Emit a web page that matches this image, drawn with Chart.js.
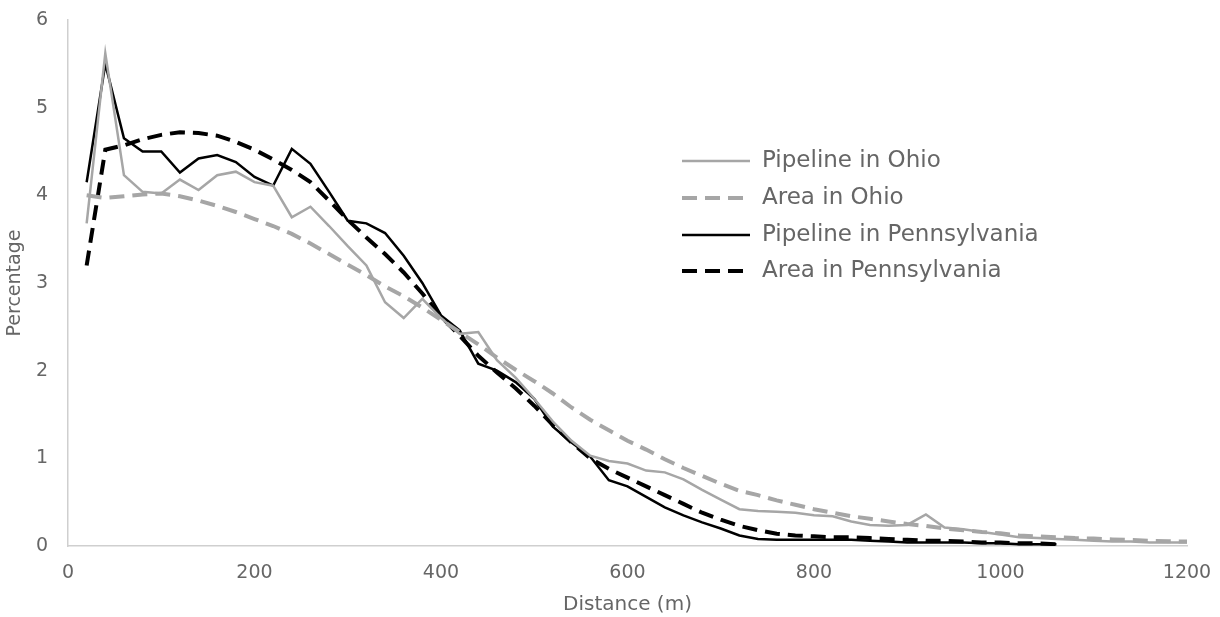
<!DOCTYPE html>
<html>
<head>
<meta charset="utf-8">
<script src="https://cdn.jsdelivr.net/npm/chart.js@4/dist/chart.umd.min.js"></script>
<style>
  html, body { margin: 0; padding: 0; background: #fff; }
  #wrap { width: 1220px; height: 617px; }
</style>
</head>
<body>
<div id="wrap"><canvas id="grafico" width="1220" height="617"></canvas></div>
<script>
// Distâncias (m)
const distOhio = [20,40,60,80,100,120,140,160,180,200,220,240,260,280,300,320,340,360,380,400,
  420,440,460,480,500,520,540,560,580,600,620,640,660,680,700,720,740,760,780,800,
  820,840,860,880,900,920,940,960,980,1000,1020,1040,1060,1080,1100,1120,1140,1160,1180,1200];
const distPenn = [20,40,60,80,100,120,140,160,180,200,220,240,260,280,300,320,340,360,380,400,
  420,440,460,480,500,520,540,560,580,600,620,640,660,680,700,720,740,760,780,800,
  820,840,860,880,900,920,940,960,980,1000,1020,1040,1060];

// Percentagens
const pipelineOhio = [3.68,5.62,4.23,4.04,4.02,4.18,4.06,4.23,4.27,4.15,4.11,3.75,3.87,3.65,3.42,3.2,2.78,2.6,2.82,2.6,
  2.42,2.44,2.12,1.92,1.68,1.42,1.2,1.03,0.97,0.94,0.86,0.84,0.76,0.64,0.53,0.42,0.4,0.39,0.38,0.35,
  0.34,0.28,0.24,0.23,0.24,0.36,0.21,0.19,0.16,0.13,0.1,0.09,0.08,0.07,0.06,0.05,0.05,0.04,0.04,0.04];
const areaOhio = [4.0,3.97,3.99,4.01,4.02,3.99,3.94,3.88,3.81,3.73,3.65,3.56,3.45,3.33,3.21,3.09,2.96,2.85,2.72,2.58,
  2.44,2.3,2.15,2.01,1.88,1.74,1.58,1.44,1.32,1.2,1.1,0.99,0.89,0.8,0.71,0.63,0.58,0.52,0.47,0.42,
  0.38,0.34,0.31,0.28,0.25,0.23,0.2,0.18,0.16,0.145,0.12,0.11,0.1,0.09,0.085,0.075,0.068,0.06,0.055,0.05];
const pipelinePenn = [4.15,5.5,4.65,4.5,4.5,4.26,4.42,4.46,4.38,4.21,4.11,4.53,4.36,4.04,3.71,3.68,3.57,3.31,3.0,2.63,
  2.46,2.08,2.0,1.87,1.68,1.36,1.18,1.02,0.75,0.68,0.56,0.44,0.35,0.27,0.2,0.12,0.08,0.07,0.07,0.07,
  0.07,0.07,0.06,0.05,0.04,0.04,0.04,0.04,0.03,0.03,0.02,0.02,0.02];
const areaPenn = [3.2,4.52,4.57,4.64,4.69,4.72,4.71,4.68,4.61,4.52,4.41,4.29,4.15,3.94,3.72,3.52,3.33,3.12,2.88,2.62,
  2.4,2.17,1.98,1.8,1.6,1.38,1.18,1.0,0.88,0.78,0.68,0.58,0.48,0.38,0.3,0.23,0.18,0.14,0.12,0.11,
  0.1,0.1,0.09,0.08,0.07,0.06,0.06,0.05,0.04,0.04,0.03,0.03,0.02];

const yTicks = [0,1,2,3,4,5,6];
const xTicks = [0,200,400,600,800,1000,1200];

const cinza = '#a6a6a6';
const texto = '#666666';
const fonte = "'DejaVu Sans', sans-serif";

const pontos = (xs, ys) => xs.map((x, i) => ({ x: x, y: ys[i] }));

// Legenda desenhada dentro da área do gráfico
const legendaInterna = {
  id: 'legendaInterna',
  afterDraw(chart) {
    const ctx = chart.ctx;
    const linhas = [161, 198, 235, 271];
    ctx.save();
    chart.data.datasets.forEach((ds, i) => {
      const y = linhas[i];
      ctx.beginPath();
      ctx.strokeStyle = ds.borderColor;
      ctx.lineWidth = ds.borderWidth;
      ctx.setLineDash(ds.borderDash || []);
      ctx.moveTo(682, y);
      ctx.lineTo(750, y);
      ctx.stroke();
      ctx.setLineDash([]);
      ctx.fillStyle = texto;
      ctx.font = "23px " + fonte;
      ctx.textBaseline = 'middle';
      ctx.fillText(ds.label, 762, y);
    });
    ctx.restore();
  }
};

new Chart(document.getElementById('grafico').getContext('2d'), {
  type: 'line',
  data: {
    datasets: [
      { label: 'Pipeline in Ohio', data: pontos(distOhio, pipelineOhio), borderColor: cinza, borderWidth: 2.5 },
      { label: 'Area in Ohio', data: pontos(distOhio, areaOhio), borderColor: cinza, borderWidth: 4, borderDash: [15, 8] },
      { label: 'Pipeline in Pennsylvania', data: pontos(distPenn, pipelinePenn), borderColor: '#000', borderWidth: 2.5 },
      { label: 'Area in Pennsylvania', data: pontos(distPenn, areaPenn), borderColor: '#000', borderWidth: 4, borderDash: [15, 8] }
    ]
  },
  options: {
    responsive: false,
    animation: false,
    layout: { padding: { top: 20, right: 33, left: 0, bottom: 0 } },
    elements: { point: { radius: 0 }, line: { tension: 0, fill: false } },
    plugins: { legend: { display: false }, tooltip: { enabled: false } },
    scales: {
      x: {
        type: 'linear', min: 0, max: 1200,
        afterBuildTicks: s => { s.ticks = xTicks.map(v => ({ value: v })); },
        afterFit: s => { s.height = 71; },
        grid: { color: 'transparent', drawOnChartArea: false, drawTicks: true, tickLength: 16 },
        border: { display: true, color: '#cfcfcf', width: 1.5 },
        ticks: { color: texto, font: { family: fonte, size: 19 }, padding: 0, maxRotation: 0, callback: v => String(v) },
        title: { display: true, text: 'Distance (m)', color: texto, font: { family: fonte, size: 20 }, padding: { top: 4, bottom: 0 } }
      },
      y: {
        min: 0, max: 6,
        afterBuildTicks: s => { s.ticks = yTicks.map(v => ({ value: v })); },
        afterFit: s => { s.width = 68; },
        grid: { color: 'transparent', drawOnChartArea: false, drawTicks: true, tickLength: 20 },
        border: { display: true, color: '#cfcfcf', width: 1.5 },
        ticks: { color: texto, font: { family: fonte, size: 19 }, padding: 0, callback: v => String(v) },
        title: { display: true, text: 'Percentage', color: texto, font: { family: fonte, size: 19 }, padding: { top: 4, bottom: 0 } }
      }
    }
  },
  plugins: [legendaInterna]
});
</script>
</body>
</html>
